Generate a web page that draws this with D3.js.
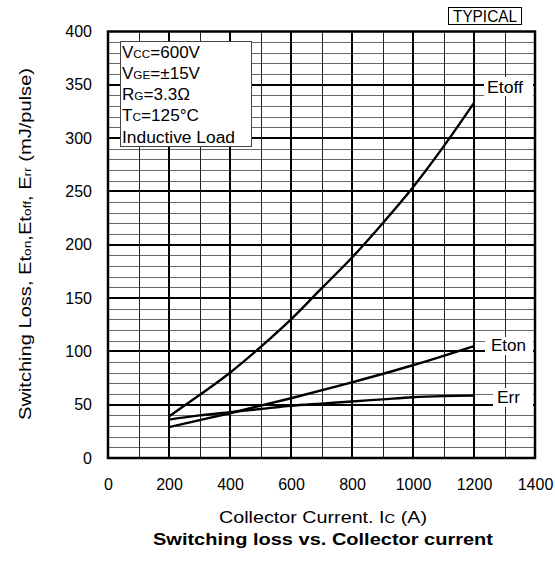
<!DOCTYPE html>
<html>
<head>
<meta charset="utf-8">
<script src="https://cdn.jsdelivr.net/npm/d3@7"></script>
<style>
  html, body { margin: 0; padding: 0; background: #fff; }
  svg { display: block; font-family: "Liberation Sans", Arial, sans-serif; }
</style>
</head>
<body>
<div id="chart"></div>
<script>
// ---- data ----
var xTicks = [0, 200, 400, 600, 800, 1000, 1200, 1400];
var yTicks = [0, 50, 100, 150, 200, 250, 300, 350, 400];

var etoffI = [200, 300, 400, 500, 600, 700, 800, 900, 1000, 1100, 1200];
var etoffE = [39, 59, 80, 104, 130, 159, 188, 220, 254, 292, 333];

var etonI = [200, 400, 600, 800, 1000, 1200];
var etonE = [29, 42, 56, 71, 87, 105];

var errI = [200, 300, 400, 500, 600, 700, 800, 900, 1000, 1100, 1200];
var errE = [36, 40, 43, 46, 49, 51, 53, 55, 57, 58, 58.5];

var conditions = [
  { main: 'V', sub: 'CC', rest: '=600V', len: 78 },
  { main: 'V', sub: 'GE', rest: '=\u00b115V', len: 78 },
  { main: 'R', sub: 'G', rest: '=3.3\u03a9', len: 68 },
  { main: 'T', sub: 'C', rest: '=125\u00b0C', len: 77 },
  { main: 'Inductive Load', sub: '', rest: '', len: 113 }
];

var W = 555, H = 561;
var x = d3.scaleLinear().domain([0, 1400]).range([108, 535]);
var y = d3.scaleLinear().domain([0, 400]).range([458, 31.5]);

var svg = d3.select('#chart').append('svg')
  .attr('width', W).attr('height', H);

// grid
var grid = svg.append('g');
d3.range(10, 400, 10).forEach(function (v) {
  var major = v % 50 === 0;
  grid.append('line')
    .attr('x1', x(0)).attr('x2', x(1400))
    .attr('y1', Math.round(y(v)) + (major ? 0 : 0.5)).attr('y2', Math.round(y(v)) + (major ? 0 : 0.5))
    .attr('stroke', major ? '#000' : '#666')
    .attr('stroke-width', major ? 2 : 1);
});
d3.range(100, 1400, 100).forEach(function (v) {
  var major = v % 200 === 0;
  grid.append('line')
    .attr('y1', y(0)).attr('y2', y(400))
    .attr('x1', Math.round(x(v)) + (major ? 0 : 0.5)).attr('x2', Math.round(x(v)) + (major ? 0 : 0.5))
    .attr('stroke', major ? '#000' : '#222')
    .attr('stroke-width', major ? 2 : 1);
});

// white boxes behind curve labels
var labels = [
  { text: 'Etoff', bx: 484, by: 77, bw: 49, bh: 19, tx: 487, ty: 93, len: 36 },
  { text: 'Eton', bx: 485, by: 337, bw: 48, bh: 18, tx: 491, ty: 351, len: 35 },
  { text: 'Err', bx: 493, by: 388, bw: 40, bh: 19, tx: 497, ty: 403, len: 23 }
];
labels.forEach(function (l) {
  svg.append('rect')
    .attr('x', l.bx).attr('y', l.by).attr('width', l.bw).attr('height', l.bh)
    .attr('fill', '#fff');
  svg.append('text')
    .attr('x', l.tx).attr('y', l.ty)
    .attr('font-size', '16px')
    .attr('textLength', l.len).attr('lengthAdjust', 'spacingAndGlyphs')
    .text(l.text);
});

// curves
var line = d3.line()
  .x(function (d) { return x(d[0]); })
  .y(function (d) { return y(d[1]); })
  .curve(d3.curveCatmullRom.alpha(0.5));

[[etoffI, etoffE], [etonI, etonE], [errI, errE]].forEach(function (s) {
  var pts = s[0].map(function (v, i) { return [v, s[1][i]]; });
  svg.append('path')
    .attr('d', line(pts))
    .attr('fill', 'none')
    .attr('stroke', '#000')
    .attr('stroke-width', 2.4);
});

// frame
svg.append('rect')
  .attr('x', x(0)).attr('y', y(400))
  .attr('width', x(1400) - x(0)).attr('height', y(0) - y(400))
  .attr('fill', 'none').attr('stroke', '#000').attr('stroke-width', 2.5);

// axes (labels only)
var xAxis = svg.append('g')
  .attr('transform', 'translate(0,' + y(0) + ')')
  .call(d3.axisBottom(x).tickValues(xTicks).tickFormat(d3.format('d')).tickSize(0).tickPadding(20.5));
var yAxis = svg.append('g')
  .attr('transform', 'translate(' + x(0) + ',0)')
  .call(d3.axisLeft(y).tickValues(yTicks).tickFormat(d3.format('d')).tickSize(0).tickPadding(16));
[xAxis, yAxis].forEach(function (a) {
  a.select('.domain').remove();
  a.selectAll('text')
    .attr('font-size', '16px')
    .attr('font-family', '"Liberation Sans", Arial, sans-serif')
    .attr('fill', '#000');
});

// conditions box
svg.append('rect')
  .attr('x', 120.5).attr('y', 41.5).attr('width', 131).attr('height', 105)
  .attr('fill', '#fff').attr('stroke', '#444').attr('stroke-width', 1);
conditions.forEach(function (c, i) {
  var t = svg.append('text')
    .attr('x', 122).attr('y', 57.5 + i * 21.3)
    .attr('font-size', '16px')
    .attr('textLength', c.len).attr('lengthAdjust', 'spacingAndGlyphs');
  t.append('tspan').text(c.main);
  if (c.sub) t.append('tspan').attr('font-size', '11px').text(c.sub);
  if (c.rest) t.append('tspan').text(c.rest);
});

// TYPICAL tag
svg.append('rect')
  .attr('x', 448.5).attr('y', 7.5).attr('width', 73).attr('height', 17)
  .attr('fill', '#fff').attr('stroke', '#000').attr('stroke-width', 1);
svg.append('text')
  .attr('x', 453).attr('y', 21.5)
  .attr('font-size', '16px')
  .attr('textLength', 64).attr('lengthAdjust', 'spacingAndGlyphs')
  .text('TYPICAL');

// axis titles
var xt = svg.append('text')
  .attr('x', 219).attr('y', 523)
  .attr('font-size', '16px')
  .attr('textLength', 208).attr('lengthAdjust', 'spacingAndGlyphs');
xt.append('tspan').text('Collector Current. I');
xt.append('tspan').attr('font-size', '12px').text('C');
xt.append('tspan').text(' (A)');

svg.append('text')
  .attr('x', 153).attr('y', 545)
  .attr('font-size', '17px').attr('font-weight', 'bold')
  .attr('textLength', 340).attr('lengthAdjust', 'spacingAndGlyphs')
  .text('Switching loss vs. Collector current');

var yt = svg.append('text')
  .attr('transform', 'translate(31,420) rotate(-90)')
  .attr('font-size', '16px')
  .attr('textLength', 352).attr('lengthAdjust', 'spacingAndGlyphs');
yt.append('tspan').text('Switching Loss, Et');
yt.append('tspan').attr('font-size', '11px').text('on');
yt.append('tspan').text(',Et');
yt.append('tspan').attr('font-size', '11px').text('off');
yt.append('tspan').text(', E');
yt.append('tspan').attr('font-size', '11px').text('rr');
yt.append('tspan').text(' (mJ/pulse)');
</script>
</body>
</html>
